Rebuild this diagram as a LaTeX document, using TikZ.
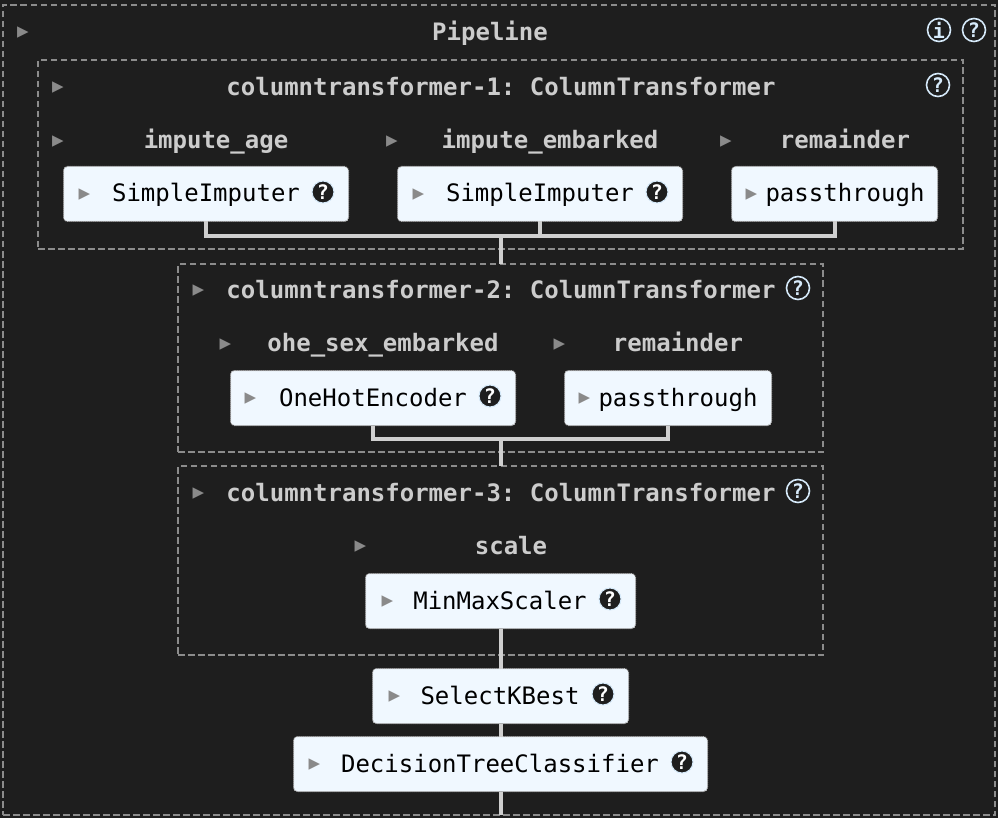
\documentclass[tikz,border=0pt]{standalone}
\usepackage{fontspec}
\setmonofont{DejaVu Sans Mono}
\newfontfamily\symfont{DejaVu Sans}
\usepackage{xcolor}
\usepackage{tikz}
\definecolor{panelbg}{HTML}{1E1E1E}
\definecolor{boxbg}{HTML}{F0F8FF}
\definecolor{labelfg}{HTML}{CCCCCC}
\definecolor{dashfg}{HTML}{8C8C8C}
\definecolor{linkfg}{HTML}{CFCFCF}
\definecolor{markfg}{HTML}{8A8A8A}
\definecolor{ringfg}{HTML}{D6EAFA}
\tikzset{
  group/.style={draw=dashfg,dash pattern=on 6.5pt off 3.5pt,line width=1.7pt,inner sep=0pt,outer sep=0pt},
  est/.style={draw=gray!60,fill=boxbg,dash pattern=on 1pt off 1pt,line width=1pt,rounded corners=4pt,inner sep=0pt,outer sep=0pt,minimum height=55pt},
  link/.style={draw=linkfg,line width=4pt},
  ttl/.style={anchor=base,text=labelfg,font=\fontsize{24}{28}\ttfamily\bfseries},
  txt/.style={anchor=base,text=black,font=\fontsize{24}{28}\ttfamily},
  tri/.style={text=markfg,inner sep=0pt,font=\fontsize{23}{23}\symfont},
  hlp/.style={circle,draw=ringfg,fill=panelbg,text=white,line width=1pt,inner sep=0pt,minimum size=22pt,font=\fontsize{20}{20}\ttfamily\bfseries},
  hlpdark/.style={circle,draw=ringfg,text=ringfg,line width=1.6pt,inner sep=0pt,minimum size=23pt,font=\fontsize{20}{20}\ttfamily\bfseries}
}

\begin{document}
\begin{tikzpicture}[x=1pt,y=-1pt]
\useasboundingbox (0,0) rectangle (998,818);
\fill[panelbg] (0,0) rectangle (998,818);
% dashed groups
\node[group,minimum width=992pt,minimum height=810pt] (pipelinebox) at (499,410) {};
\node[group,minimum width=925pt,minimum height=189pt] (ctonebox) at (500.5,154.5) {};
\node[group,minimum width=645pt,minimum height=188pt] (cttwobox) at (500.5,358) {};
\node[group,minimum width=645pt,minimum height=189pt] (ctthreebox) at (500.5,560.5) {};
% estimator boxes
\node[est,minimum width=285pt] (ageimputer) at (206,194) {};
\node[est,minimum width=285pt] (embarkedimputer) at (540,194) {};
\node[est,minimum width=206pt] (passone) at (834.5,194) {};
\node[est,minimum width=285pt] (onehot) at (373,398) {};
\node[est,minimum width=207pt] (passtwo) at (668,398) {};
\node[est,minimum width=270pt] (minmax) at (500.5,601) {};
\node[est,minimum width=256pt] (kbest) at (500.5,696) {};
\node[est,minimum width=414pt] (dtree) at (500.5,764) {};
% connectors
\coordinate (joinone) at (500.5,236);
\coordinate (jointwo) at (500.5,439);
\coordinate (pipeend) at (500.5,815);
\draw[link] (ageimputer.south) |- (joinone) -| (passone.south);
\draw[link] (embarkedimputer.south) -- (embarkedimputer.south |- joinone);
\draw[link] (joinone) -- (cttwobox.north);
\draw[link] (onehot.south) |- (jointwo) -| (passtwo.south);
\draw[link] (jointwo) -- (ctthreebox.north);
\draw[link] (minmax.south) -- (kbest.north);
\draw[link] (kbest.south) -- (dtree.north);
\draw[link] (dtree.south) -- (pipeend);
% titles
\node[ttl] (pipelinettl) at (490,40.5) {Pipeline};
\node[ttl] (ctonettl) at (501,95.5) {columntransformer-1: ColumnTransformer};
\node[ttl] (cttwottl) at (501,298.5) {columntransformer-2: ColumnTransformer};
\node[ttl] (ctthreettl) at (501,501.5) {columntransformer-3: ColumnTransformer};
\node[ttl] (agettl) at (216,148.5) {impute\_age};
\node[ttl] (embarkedttl) at (550,148.5) {impute\_embarked};
\node[ttl] (remonettl) at (845,148.5) {remainder};
\node[ttl] (ohettl) at (383,351.5) {ohe\_sex\_embarked};
\node[ttl] (remtwottl) at (678,351.5) {remainder};
\node[ttl] (scalettl) at (511,554.5) {scale};
% estimator names
\node[txt] (agetxt) at (206,202) {SimpleImputer};
\node[txt] (embarkedtxt) at (540,202) {SimpleImputer};
\node[txt] (passonetxt) at (845,202) {passthrough};
\node[txt] (onehottxt) at (373,406) {OneHotEncoder};
\node[txt] (passtwotxt) at (678,406) {passthrough};
\node[txt] (minmaxtxt) at (500,609) {MinMaxScaler};
\node[txt] (kbesttxt) at (500,704) {SelectKBest};
\node[txt] (dtreetxt) at (500,772) {DecisionTreeClassifier};
% toggles
\node[tri] (tria) at (23,33) {▸};
\node[tri] (trib) at (58,88) {▸};
\node[tri] (tric) at (58,142) {▸};
\node[tri] (trid) at (392,142) {▸};
\node[tri] (trie) at (726,142) {▸};
\node[tri] (trif) at (84.5,195) {▸};
\node[tri] (trig) at (418.5,195) {▸};
\node[tri] (trih) at (751.5,195) {▸};
\node[tri] (trii) at (198.5,291) {▸};
\node[tri] (trij) at (225.5,345) {▸};
\node[tri] (trik) at (559.5,345) {▸};
\node[tri] (tril) at (250.5,399) {▸};
\node[tri] (trim) at (584.5,399) {▸};
\node[tri] (trin) at (198.5,494) {▸};
\node[tri] (trio) at (360.5,547) {▸};
\node[tri] (trip) at (387.5,602) {▸};
\node[tri] (triq) at (394.5,697) {▸};
\node[tri] (trir) at (314.5,765) {▸};
% help icons
\node[hlpdark] (pipeinfo) at (939,30) {i};
\node[hlpdark] (pipehelp) at (974,30) {?};
\node[hlpdark] (ctonehelp) at (938,85) {?};
\node[hlpdark] (cttwohelp) at (798,288) {?};
\node[hlpdark] (ctthreehelp) at (798,491) {?};
\node[hlp] (agehelp) at (323,192) {?};
\node[hlp] (embarkedhelp) at (657,192) {?};
\node[hlp] (onehothelp) at (490,396) {?};
\node[hlp] (minmaxhelp) at (610,599) {?};
\node[hlp] (kbesthelp) at (603,694) {?};
\node[hlp] (dtreehelp) at (682,762) {?};
\end{tikzpicture}
\end{document}
